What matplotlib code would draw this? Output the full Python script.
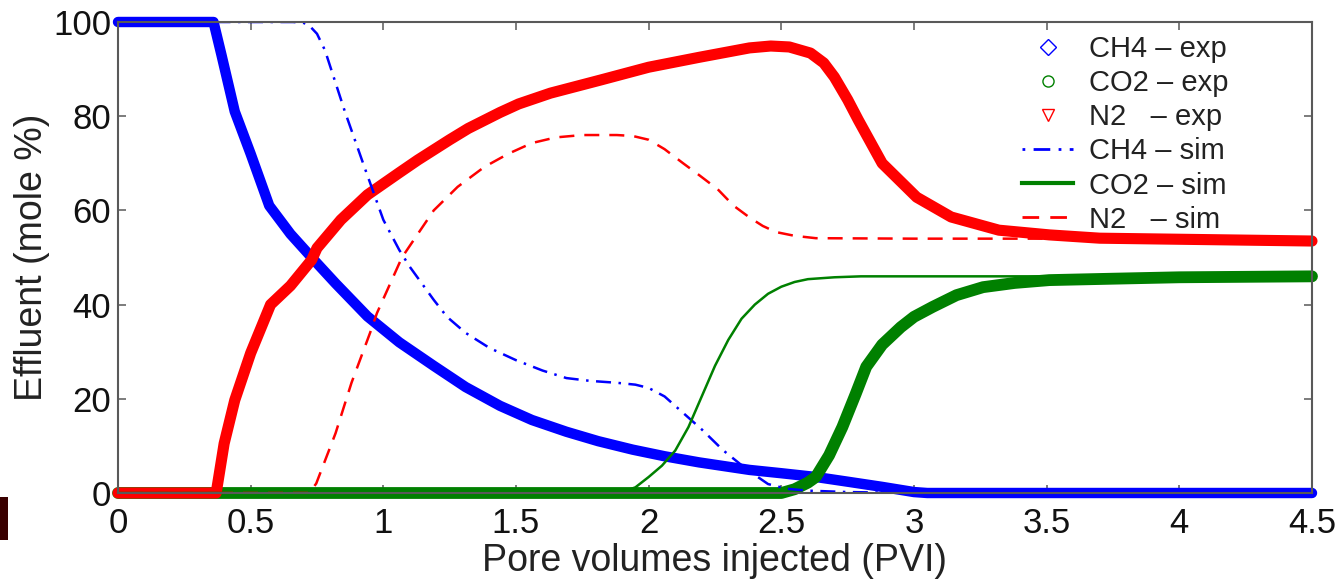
#!/usr/bin/env python3

# Effluent composition vs pore volumes injected, experiment against simulation.
import matplotlib
matplotlib.use('Agg')
import matplotlib.pyplot as plt
from matplotlib.patches import Rectangle

plt.rcParams['font.family'] = ['Liberation Sans', 'DejaVu Sans']

ch4_exp_x = [0, 0.36, 0.39, 0.44, 0.50, 0.57, 0.65, 0.73, 0.82, 0.94, 1.06, 1.19, 1.31,
             1.44, 1.56, 1.69, 1.81, 1.94, 2.06, 2.19, 2.38, 2.50, 2.63, 2.75, 2.88, 3.0, 3.05, 4.5]
ch4_exp_y = [100, 100, 93, 81, 72, 61, 55, 50, 44.5, 37.5, 32, 27, 22.5,
             18.5, 15.5, 13, 11, 9.2, 7.8, 6.5, 4.9, 4.2, 3.4, 2.4, 1.3, 0.2, 0, 0]

co2_exp_x = [0, 2.50, 2.55, 2.60, 2.63, 2.68, 2.73, 2.78, 2.82, 2.88, 2.95, 3.0, 3.07, 3.16,
             3.26, 3.38, 3.51, 3.75, 4.0, 4.5]
co2_exp_y = [0, 0, 0.8, 2.2, 3.4, 8, 14, 21, 26.8, 31.5, 35.2, 37.4, 39.5, 42,
             43.7, 44.6, 45.2, 45.5, 45.8, 46]

n2_exp_x = [0, 0.37, 0.40, 0.44, 0.50, 0.575, 0.65, 0.73, 0.75, 0.84, 0.94, 1.06, 1.13,
            1.25, 1.32, 1.44, 1.51, 1.63, 1.82, 2.0, 2.19, 2.38, 2.46, 2.53, 2.61, 2.66,
            2.70, 2.75, 2.79, 2.88, 3.01, 3.14, 3.32, 3.51, 3.70, 4.1, 4.5]
n2_exp_y = [0, 0, 10.5, 19.7, 29.7, 40, 44, 49.5, 52, 58, 63.3, 68, 70.7,
            75, 77.4, 80.8, 82.6, 84.9, 87.7, 90.4, 92.5, 94.5, 94.9, 94.7, 93.4, 91.3,
            88.3, 83.5, 79.2, 70, 62.8, 58.6, 55.8, 54.8, 54.1, 53.8, 53.5]

# Simulation results
ch4_sim_x = [0, 0.66, 0.70, 0.72, 0.75, 0.78, 0.855, 0.93, 1.0, 1.06, 1.10, 1.19, 1.24, 1.31,
             1.40, 1.50, 1.60, 1.69, 1.78, 1.88, 1.95, 2.0, 2.06, 2.13, 2.20, 2.28, 2.37,
             2.45, 2.52, 2.60, 2.75, 3.0, 4.5]
ch4_sim_y = [100, 100, 99.8, 99.3, 97.5, 94, 81, 69, 58, 51.6, 48, 41, 37.4, 34,
             30.8, 28.2, 26, 24.4, 23.8, 23.4, 23, 22.3, 20.5, 17, 13.5, 9.1, 5,
             1.9, 0.9, 0.5, 0.2, 0, 0]

co2_sim_x = [0, 1.85, 1.88, 1.92, 1.95, 2.0, 2.05, 2.10, 2.15, 2.20, 2.25, 2.30, 2.35, 2.40,
             2.45, 2.50, 2.55, 2.60, 2.70, 2.80, 4.5]
co2_sim_y = [0, 0, 0.2, 0.6, 1.2, 3.4, 5.8, 9, 14, 20.5, 27, 32.5, 37, 40,
             42.3, 43.8, 44.8, 45.4, 45.8, 46, 46]

n2_sim_x = [0, 0.72, 0.747, 0.82, 0.88, 0.95, 0.976, 1.07, 1.19, 1.28, 1.38, 1.47, 1.56,
            1.65, 1.75, 1.88, 1.94, 2.0, 2.06, 2.13, 2.19, 2.26, 2.32, 2.38, 2.43, 2.48,
            2.55, 2.63, 3.0, 4.5]
n2_sim_y = [0, 0, 2, 12.7, 23.4, 34, 38.2, 50, 60, 65, 69.2, 72, 74.3,
            75.5, 76, 76, 75.8, 75, 73, 70, 67.5, 64.5, 61, 58.5, 56.7, 55.4,
            54.6, 54.1, 54, 54]

xticks = [0, 0.5, 1, 1.5, 2, 2.5, 3, 3.5, 4, 4.5]
xticklabels = ['0', '0.5', '1', '1.5', '2', '2.5', '3', '3.5', '4', '4.5']
yticks = [0, 20, 40, 60, 80, 100]

BLUE, GREEN, RED = '#0000ff', '#008000', '#ff0000'


def main():
    fig = plt.figure(figsize=(13.43, 5.79), dpi=100)
    ax = fig.add_axes([118 / 1343, 1 - 493 / 579, (1312 - 118) / 1343, (493 - 22) / 579])

    # Experimental bands: the dense hollow markers merge into a thick trace
    band = dict(solid_joinstyle='round', solid_capstyle='round', clip_on=False)
    ax.plot(ch4_exp_x, ch4_exp_y, color=BLUE, linewidth=7.5, **band)
    ax.plot(co2_exp_x, co2_exp_y, color=GREEN, linewidth=8.5, **band)
    ax.plot(n2_exp_x, n2_exp_y, color=RED, linewidth=8, **band)

    # Simulation curves
    sim = dict(linewidth=1.8, solid_joinstyle='round', dash_joinstyle='round')
    ax.plot(ch4_sim_x, ch4_sim_y, color=BLUE, linestyle=(0, (6, 3, 1, 3)), **sim)
    ax.plot(co2_sim_x, co2_sim_y, color=GREEN, **sim)
    ax.plot(n2_sim_x, n2_sim_y, color=RED, linestyle=(0, (6, 4)), **sim)

    ax.set_xlim(0, 4.5)
    ax.set_ylim(0, 100)
    ax.set_xticks(xticks)
    ax.set_xticklabels(xticklabels)
    ax.set_yticks(yticks)
    ax.tick_params(direction='in', length=6, width=1.2, color='0.4', top=True, right=True,
                   labelsize=25, labelcolor='#111111')
    ax.tick_params(axis='x', pad=10)
    ax.tick_params(axis='y', pad=5)
    for spine in ax.spines.values():
        spine.set_color('0.35')
        spine.set_linewidth(1.5)

    ax.set_xlabel('Pore volumes injected (PVI)', fontsize=27, color='#222222', labelpad=2)
    ax.set_ylabel('Effluent (mole %)', fontsize=27, color='#222222', labelpad=2)

    # Legend without a frame, upper right corner
    marker = dict(linestyle='none', markersize=8, markerfacecolor='none', markeredgewidth=1)
    handles = [
        plt.Line2D([], [], color=BLUE, marker='D', **marker),
        plt.Line2D([], [], color=GREEN, marker='o', **marker),
        plt.Line2D([], [], color=RED, marker='v', **marker),
        plt.Line2D([], [], color=BLUE, linewidth=2, linestyle=(0, (1, 3, 6, 3))),
        plt.Line2D([], [], color=GREEN, linewidth=3),
        plt.Line2D([], [], color=RED, linewidth=2, linestyle=(0, (6, 4))),
    ]
    labels = ['CH4 \u2013 exp', 'CO2 \u2013 exp', 'N2   \u2013 exp',
              'CH4 \u2013 sim', 'CO2 \u2013 sim', 'N2   \u2013 sim']
    leg = ax.legend(handles, labels, loc='upper left', frameon=False,
                    bbox_to_anchor=(1022 / 1343, 1 - 35 / 579), bbox_transform=fig.transFigure,
                    borderpad=0, borderaxespad=0, fontsize=21, handlelength=1.75,
                    handletextpad=0.55, labelspacing=0.21)
    for text in leg.get_texts():
        text.set_color('#222222')

    # Dark strip at the lower left edge of the picture
    fig.add_artist(Rectangle((0, 1 - 540 / 579), 8 / 1343, 43 / 579, transform=fig.transFigure,
                             color='#3a0000', linewidth=0))

    plt.savefig('out.png', dpi=100)


if __name__ == '__main__':
    main()
